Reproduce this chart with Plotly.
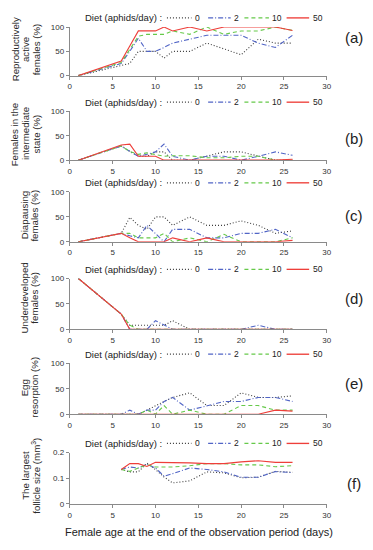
import plotly.graph_objects as go

days = [1, 6, 7, 8, 9, 10, 11, 12, 14, 16, 18, 20, 22, 24, 26]
follicle_days = [6, 7, 8, 9, 10, 11, 12, 14, 16, 18, 20, 22, 24, 26]
diets = ["0", "2", "10", "50"]
x_ticks = [0, 5, 10, 15, 20, 25, 30]

active_0 = [0, 20, 25, 50, 50, 50, 36, 50, 50, 67, 55, 43, 75, 67, 67]
active_2 = [0, 25, 50, 77, 50, 50, 58, 67, 75, 83, 83, 83, 67, 58, 83]
active_10 = [0, 27, 54, 81, 85, 85, 85, 92, 85, 100, 85, 92, 92, 100, 93]
active_50 = [0, 30, 61, 92, 92, 92, 100, 92, 100, 92, 100, 100, 100, 100, 93]

inter_0 = [0, 29, 18, 8, 8, 17, 17, 0, 0, 8, 17, 17, 8, 0, 0]
inter_2 = [0, 29, 18, 8, 12, 17, 33, 8, 0, 8, 8, 0, 8, 17, 10]
inter_10 = [0, 29, 18, 12, 15, 12, 8, 9, 9, 5, 5, 8, 8, 0, 0]
inter_50 = [0, 31, 33, 8, 8, 8, 0, 0, 0, 0, 0, 0, 0, 0, 2]

diap_0 = [0, 17, 49, 33, 25, 50, 50, 33, 50, 33, 33, 42, 33, 17, 22]
diap_2 = [0, 17, 12, 8, 33, 17, 0, 25, 25, 8, 8, 17, 17, 25, 8]
diap_10 = [0, 17, 17, 8, 8, 8, 17, 0, 8, 0, 15, 0, 0, 0, 8]
diap_50 = [0, 17, 8, 0, 0, 0, 0, 8, 0, 8, 0, 0, 0, 0, 3]

under_0 = [100, 30, 8, 8, 8, 8, 8, 17, 0, 0, 0, 0, 0, 0, 0]
under_2 = [100, 30, 0, 0, 0, 17, 8, 0, 0, 0, 0, 0, 8, 0, 0]
under_10 = [100, 30, 8, 0, 0, 0, 0, 0, 0, 0, 0, 0, 0, 0, 0]
under_50 = [100, 30, 0, 0, 0, 0, 0, 0, 0, 0, 0, 0, 0, 0, 0]

resorp_0 = [0, 0, 0, 0, 8, 17, 25, 33, 42, 17, 17, 42, 33, 33, 36]
resorp_2 = [0, 0, 8, 0, 8, 8, 25, 33, 8, 17, 25, 25, 33, 33, 25]
resorp_10 = [0, 0, 0, 0, 8, 0, 17, 0, 8, 0, 0, 17, 17, 8, 8]
resorp_50 = [0, 0, 0, 0, 0, 0, 0, 0, 0, 0, 0, 0, 0, 8, 6]

foll_0 = [0.134, 0.125, 0.125, 0.159, 0.134, 0.105, 0.082, 0.09, 0.125, 0.121, 0.102, 0.104, 0.127, 0.123]
foll_2 = [0.134, 0.144, 0.14, 0.155, 0.14, 0.108, 0.118, 0.14, 0.134, 0.125, 0.104, 0.104, 0.126, 0.122]
foll_10 = [0.134, 0.127, 0.14, 0.153, 0.144, 0.144, 0.144, 0.149, 0.157, 0.157, 0.152, 0.152, 0.145, 0.149]
foll_50 = [0.134, 0.157, 0.157, 0.146, 0.162, 0.162, 0.16, 0.16, 0.157, 0.157, 0.164, 0.168, 0.162, 0.162]

y_titles = [
    ["Reproductively", "active", "females (%)"],
    ["Females in the", "intermediate", "state (%)"],
    ["Diapausing", "females (%)"],
    ["Underdeveloped", "females (%)"],
    ["Egg", "resorption (%)"],
    ["The largest", "follicle size (mm<sup>3</sup>)"],
]
panel_labels = ["(a)", "(b)", "(c)", "(d)", "(e)", "(f)"]
x_title = "Female age at the end of the observation period (days)"
legend_title = "Diet (aphids/day) :"

panels = [
    (days, [active_0, active_2, active_10, active_50]),
    (days, [inter_0, inter_2, inter_10, inter_50]),
    (days, [diap_0, diap_2, diap_10, diap_50]),
    (days, [under_0, under_2, under_10, under_50]),
    (days, [resorp_0, resorp_2, resorp_10, resorp_50]),
    (follicle_days, [foll_0, foll_2, foll_10, foll_50]),
]

# ---------------- styling ----------------
PAGE_W, PAGE_H = 373, 550
OFF = 8  # default page body margin: the figure starts 8 px in from the page corner
W, H = PAGE_W - OFF, PAGE_H - OFF
FONT = "Liberation Sans, Arial, sans-serif"
colors = ["#3c3c3c", "#5165c6", "#66c94a", "#ee3f3a"]
dashes = ["1px,2px", "5px,2px,1px,2px", "4px,3px", "solid"]
widths = [1.1, 1.1, 1.1, 1.15]
# positions below are in page pixels
areas = [(23.3, 72.7), (109, 158.7), (191, 241.7), (279, 330.7), (365.3, 417), (456, 508.3)]
x_left, x_right = 69, 331
label_y = [34, 137, 215, 299, 386, 487]
title_line_x = [[13, 24, 34.5], [13.5, 24.5, 35], [23, 33.5], [23, 33.5], [23, 33.5], [23.5, 34.5]]
title_center_y = [46, 132, 215, 298.5, 390, 479.5]
legend_title_right = 165
legend_samples = [(168, 193), (210, 233), (247, 272), (290, 313)]

fig = go.Figure()
layout = dict(
    width=W, height=H, margin=dict(l=0, r=0, t=0, b=0),
    paper_bgcolor="white", plot_bgcolor="white",
    font=dict(family=FONT, color="#222"),
    showlegend=False,
)
annotations = []
shapes = []


def px_x(v):
    return (v - OFF) / W


def px_y(v):
    return 1 - (v - OFF) / H


for i, (xs, series) in enumerate(panels):
    n = i + 1
    xa = "x" if n == 1 else f"x{n}"
    ya = "y" if n == 1 else f"y{n}"
    for j, vals in enumerate(series):
        fig.add_trace(go.Scatter(
            x=xs, y=vals, mode="lines", name=diets[j],
            line=dict(color=colors[j], dash=dashes[j], width=widths[j]),
            xaxis=xa, yaxis=ya, cliponaxis=False, hoverinfo="x+y+name",
        ))
    top, bot = areas[i]
    axis_common = dict(
        showline=True, linecolor="#8a8a8a", linewidth=1, ticks="outside",
        ticklen=3, tickcolor="#8a8a8a", tickfont=dict(size=8, color="#333", family=FONT),
        showgrid=False, zeroline=False, fixedrange=True,
    )
    layout["xaxis" if n == 1 else f"xaxis{n}"] = dict(
        domain=[px_x(x_left), px_x(x_right)], range=[0, 30], tickvals=x_ticks,
        anchor=ya, **axis_common,
    )
    if n == 6:
        ycfg = dict(range=[0, 0.2], tickvals=[0, 0.1, 0.2], ticktext=["0", "0.1", "0.2"])
    else:
        ycfg = dict(range=[0, 100], tickvals=[0, 50, 100])
    layout["yaxis" if n == 1 else f"yaxis{n}"] = dict(
        domain=[px_y(bot), px_y(top)], anchor=xa, **ycfg, **axis_common,
    )

    # legend row (drawn above each panel)
    ly = top - 9.3
    annotations.append(dict(
        text=legend_title, x=px_x(legend_title_right), y=px_y(ly),
        xref="paper", yref="paper", xanchor="right", yanchor="middle",
        showarrow=False, font=dict(size=9.5, color="#222", family=FONT),
    ))
    for j, (sx0, sx1) in enumerate(legend_samples):
        shapes.append(dict(
            type="line", xref="paper", yref="paper",
            x0=px_x(sx0), x1=px_x(sx1), y0=px_y(ly), y1=px_y(ly),
            line=dict(color=colors[j], dash=dashes[j], width=widths[j] + 0.2),
        ))
        annotations.append(dict(
            text=diets[j], x=px_x(sx1 + 1.5), y=px_y(ly),
            xref="paper", yref="paper", xanchor="left", yanchor="middle",
            showarrow=False, font=dict(size=8.5, color="#222", family=FONT),
        ))

    # y-axis title lines (rotated)
    for k, line_text in enumerate(y_titles[i]):
        annotations.append(dict(
            text=line_text, x=px_x(title_line_x[i][k]), y=px_y(title_center_y[i]),
            xref="paper", yref="paper", xanchor="center", yanchor="middle",
            textangle=-90, showarrow=False,
            font=dict(size=9.7, color="#2a2a2a", family=FONT),
        ))
    annotations.append(dict(
        text=panel_labels[i], x=px_x(359), y=px_y(label_y[i]),
        xref="paper", yref="paper", xanchor="center", yanchor="middle",
        showarrow=False, font=dict(size=15, color="#222", family=FONT),
    ))

annotations.append(dict(
    text=x_title, x=px_x(201), y=px_y(537), xref="paper", yref="paper",
    xanchor="center", yanchor="middle", showarrow=False,
    font=dict(size=11, color="#222", family=FONT),
))
layout["annotations"] = annotations
layout["shapes"] = shapes
fig.update_layout(**layout)
fig.write_html("out.html")
